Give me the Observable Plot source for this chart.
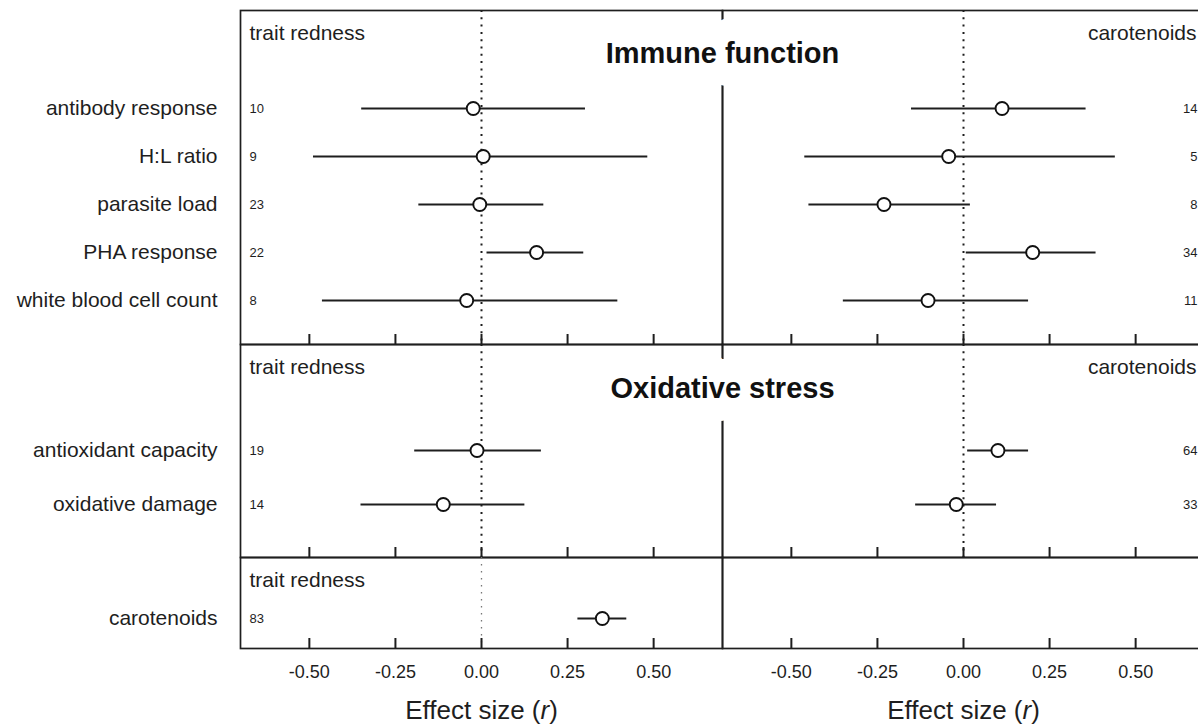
<!DOCTYPE html>
<html>
<head>
<meta charset="utf-8">
<script src="https://cdn.jsdelivr.net/npm/d3@7"></script>
<script src="https://cdn.jsdelivr.net/npm/@observablehq/plot@0.6"></script>
<style>
html, body { margin: 0; padding: 0; background: #fff; overflow: hidden; }
#chart svg { display: block; }
</style>
</head>
<body>
<div id="chart"></div>
<script>
// ---------- data ----------
const panels = ["trait redness", "carotenoids"];
const xTicks = [-0.5, -0.25, 0, 0.25, 0.5];
const axisLabel = "Effect size (r)";

const immuneTitle = "Immune function";
const immuneTraits = ["antibody response", "H:L ratio", "parasite load", "PHA response", "white blood cell count"];
const immuneRedEst = [-0.024, 0.005, -0.005, 0.160, -0.043];
const immuneRedLo  = [-0.348, -0.488, -0.182, 0.016, -0.462];
const immuneRedHi  = [0.302, 0.483, 0.181, 0.297, 0.396];
const immuneRedN   = [10, 9, 23, 22, 8];
const immuneCarEst = [0.112, -0.043, -0.231, 0.201, -0.103];
const immuneCarLo  = [-0.151, -0.461, -0.449, 0.008, -0.349];
const immuneCarHi  = [0.356, 0.441, 0.020, 0.385, 0.189];
const immuneCarN   = [14, 5, 8, 34, 11];

const oxTitle = "Oxidative stress";
const oxTraits = ["antioxidant capacity", "oxidative damage"];
const oxRedEst = [-0.013, -0.111];
const oxRedLo  = [-0.194, -0.350];
const oxRedHi  = [0.174, 0.126];
const oxRedN   = [19, 14];
const oxCarEst = [0.100, -0.021];
const oxCarLo  = [0.012, -0.139];
const oxCarHi  = [0.189, 0.096];
const oxCarN   = [64, 33];

const carTraits = ["carotenoids"];
const carRedEst = [0.351];
const carRedLo  = [0.280];
const carRedHi  = [0.422];
const carRedN   = [83];

// ---------- helpers ----------
function rows(traits, panel, est, lo, hi, n) {
  return traits.map((trait, i) => ({trait, panel, est: est[i], lo: lo[i], hi: hi[i], n: n[i]}));
}

const FONT = "'Liberation Sans', Arial, Helvetica, sans-serif";
const INK = "#1e1e1e";
const W = 1204, ML = 239;

function section(o) {
  const data = o.data;
  const left = data.filter(d => d.panel === panels[0]);
  const right = data.filter(d => d.panel === panels[1]);
  const marks = [
    Plot.frame({stroke: INK, strokeWidth: 1.7}),
    o.zeroBoth
      ? Plot.ruleX([0], {stroke: INK, strokeWidth: 2, strokeDasharray: "2,5.3"})
      : Plot.ruleX([{panel: panels[0], v: 0}], {fx: "panel", x: "v", stroke: "#777", strokeWidth: 1.3, strokeDasharray: "1.5,5.5"}),
    Plot.axisX({ticks: xTicks, tickSize: 10, dy: -10, tickFormat: () => "", label: null, strokeWidth: 2}),
    Plot.axisY({tickSize: 0, tickPadding: 23, fontSize: 21, label: null}),
    Plot.ruleY(data, {fx: "panel", y: "trait", x1: "lo", x2: "hi", stroke: INK, strokeWidth: 2}),
    Plot.dot(data, {fx: "panel", y: "trait", x: "est", r: 6.5, fill: "white", stroke: "#111", strokeWidth: 1.9}),
    Plot.text(left, {fx: "panel", y: "trait", text: "n", frameAnchor: "left", textAnchor: "start", dx: 9, fontSize: 13}),
    Plot.text(right, {fx: "panel", y: "trait", text: "n", frameAnchor: "right", textAnchor: "end", dx: -7, fontSize: 13}),
    Plot.text([{panel: panels[0]}], {fx: "panel", text: "panel", frameAnchor: "top-left", textAnchor: "start", lineAnchor: "middle", dx: 9, dy: 23, fontSize: 21})
  ];
  if (o.showCarLabel) {
    marks.push(Plot.text([{panel: panels[1]}], {fx: "panel", text: "panel", frameAnchor: "top-right", textAnchor: "end", lineAnchor: "middle", dx: -8, dy: 23, fontSize: 21}));
  }
  if (o.title) {
    const t = [{panel: panels[1], t: o.title}];
    const common = {fx: "panel", text: "t", frameAnchor: "top-left", textAnchor: "middle", lineAnchor: "middle", dy: o.titleDy, fontSize: 29, fontWeight: "bold"};
    marks.push(Plot.text(t, {...common, fill: "white", stroke: "white", strokeWidth: 46, strokeLinejoin: "round"}));
    marks.push(Plot.text(t, {...common, fill: "#111"}));
  }
  if (o.bottomAxis) {
    marks.push(Plot.axisX({ticks: xTicks, tickSize: 0, tickPadding: 17, tickFormat: d => d.toFixed(2), fontSize: 18, label: null}));
    marks.push(Plot.text(panels, {fx: d => d, text: () => axisLabel, frameAnchor: "bottom", lineAnchor: "middle", dy: 62, fontSize: 26}));
  }
  return Plot.plot({
    width: W,
    height: o.height,
    marginLeft: ML,
    marginRight: 0,
    marginTop: o.marginTop,
    marginBottom: o.marginBottom,
    style: {overflow: "visible", maxWidth: "none", fontFamily: FONT, color: INK, background: "transparent"},
    fx: {domain: panels, padding: 0, axis: null},
    x: {domain: [-0.7, 0.7]},
    y: {type: "point", domain: o.traits, padding: 0, insetTop: o.insetTop, insetBottom: o.insetBottom},
    marks
  });
}

const immuneData = [
  ...rows(immuneTraits, panels[0], immuneRedEst, immuneRedLo, immuneRedHi, immuneRedN),
  ...rows(immuneTraits, panels[1], immuneCarEst, immuneCarLo, immuneCarHi, immuneCarN)
];
const oxData = [
  ...rows(oxTraits, panels[0], oxRedEst, oxRedLo, oxRedHi, oxRedN),
  ...rows(oxTraits, panels[1], oxCarEst, oxCarLo, oxCarHi, oxCarN)
];
const carData = rows(carTraits, panels[0], carRedEst, carRedLo, carRedHi, carRedN);

const chart = document.getElementById("chart");
chart.append(section({traits: immuneTraits, data: immuneData, height: 344, marginTop: 10, marginBottom: 0, insetTop: 97, insetBottom: 44, title: immuneTitle, titleDy: 43.5, showCarLabel: true, zeroBoth: true}));
chart.append(section({traits: oxTraits, data: oxData, height: 213, marginTop: 0, marginBottom: 0, insetTop: 106, insetBottom: 53, title: oxTitle, titleDy: 44, showCarLabel: true, zeroBoth: true}));
chart.append(section({traits: carTraits, data: carData, height: 168, marginTop: 0, marginBottom: 77, insetTop: 40, insetBottom: 10, showCarLabel: false, zeroBoth: false, bottomAxis: true}));

// italic "r" in the axis titles
for (const t of chart.querySelectorAll("text")) {
  if (t.textContent === axisLabel) {
    const target = t.querySelector("tspan") || t;
    while (target.firstChild) target.removeChild(target.firstChild);
    const ns = "http://www.w3.org/2000/svg";
    const a = document.createElementNS(ns, "tspan"); a.textContent = "Effect size (";
    const b = document.createElementNS(ns, "tspan"); b.textContent = "r"; b.setAttribute("font-style", "italic");
    const c = document.createElementNS(ns, "tspan"); c.textContent = ")";
    target.append(a, b, c);
  }
}
</script>
</body>
</html>
